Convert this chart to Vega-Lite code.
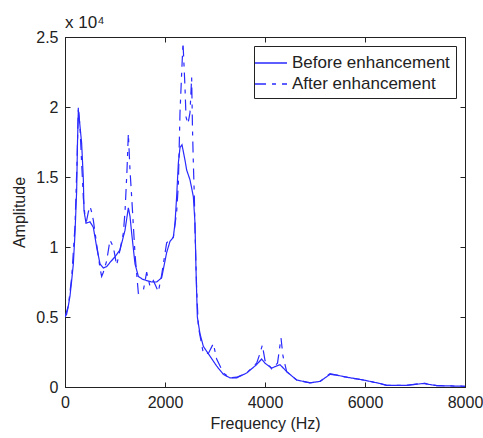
{
  "$schema": "https://vega.github.io/schema/vega-lite/v6.json",
  "width": 400,
  "height": 350,
  "autosize": {"type": "none"},
  "padding": {"left": 65, "top": 37, "right": 18, "bottom": 51},
  "background": "white",
  "title": {"text": "x 10⁴", "anchor": "start", "frame": "group", "fontSize": 17, "fontWeight": "normal", "font": "Liberation Sans", "color": "#222", "offset": -3, "dx": 0},
  "config": {
    "view": {"stroke": "#222", "strokeWidth": 1},
    "font": "Liberation Sans",
    "axis": {"labelFont": "Liberation Sans", "titleFont": "Liberation Sans", "labelFontSize": 16, "titleFontSize": 16, "titleFontWeight": "normal", "labelColor": "#222", "titleColor": "#222", "grid": false, "domainColor": "#222", "tickColor": "#222", "tickSize": -5, "labelPadding": 12}
  },
  "data": {"values": [
    {"f": 0, "a": 5000, "s": "Before enhancement"},
    {"f": 33, "a": 5200, "s": "Before enhancement"},
    {"f": 67, "a": 5800, "s": "Before enhancement"},
    {"f": 100, "a": 6500, "s": "Before enhancement"},
    {"f": 133, "a": 7600, "s": "Before enhancement"},
    {"f": 167, "a": 8800, "s": "Before enhancement"},
    {"f": 200, "a": 11000, "s": "Before enhancement"},
    {"f": 233, "a": 14000, "s": "Before enhancement"},
    {"f": 250, "a": 17500, "s": "Before enhancement"},
    {"f": 267, "a": 19800, "s": "Before enhancement"},
    {"f": 290, "a": 19000, "s": "Before enhancement"},
    {"f": 333, "a": 17400, "s": "Before enhancement"},
    {"f": 367, "a": 14800, "s": "Before enhancement"},
    {"f": 380, "a": 12600, "s": "Before enhancement"},
    {"f": 420, "a": 11700, "s": "Before enhancement"},
    {"f": 500, "a": 11800, "s": "Before enhancement"},
    {"f": 567, "a": 11400, "s": "Before enhancement"},
    {"f": 633, "a": 10000, "s": "Before enhancement"},
    {"f": 700, "a": 8800, "s": "Before enhancement"},
    {"f": 767, "a": 8500, "s": "Before enhancement"},
    {"f": 833, "a": 8600, "s": "Before enhancement"},
    {"f": 900, "a": 8900, "s": "Before enhancement"},
    {"f": 1000, "a": 9300, "s": "Before enhancement"},
    {"f": 1100, "a": 9800, "s": "Before enhancement"},
    {"f": 1200, "a": 11200, "s": "Before enhancement"},
    {"f": 1267, "a": 12800, "s": "Before enhancement"},
    {"f": 1300, "a": 12200, "s": "Before enhancement"},
    {"f": 1333, "a": 11000, "s": "Before enhancement"},
    {"f": 1400, "a": 8800, "s": "Before enhancement"},
    {"f": 1467, "a": 7900, "s": "Before enhancement"},
    {"f": 1550, "a": 7700, "s": "Before enhancement"},
    {"f": 1633, "a": 7600, "s": "Before enhancement"},
    {"f": 1733, "a": 7500, "s": "Before enhancement"},
    {"f": 1833, "a": 7500, "s": "Before enhancement"},
    {"f": 1933, "a": 7800, "s": "Before enhancement"},
    {"f": 2033, "a": 9600, "s": "Before enhancement"},
    {"f": 2100, "a": 10400, "s": "Before enhancement"},
    {"f": 2167, "a": 10700, "s": "Before enhancement"},
    {"f": 2200, "a": 11700, "s": "Before enhancement"},
    {"f": 2233, "a": 13600, "s": "Before enhancement"},
    {"f": 2267, "a": 16000, "s": "Before enhancement"},
    {"f": 2300, "a": 17100, "s": "Before enhancement"},
    {"f": 2340, "a": 17300, "s": "Before enhancement"},
    {"f": 2400, "a": 16200, "s": "Before enhancement"},
    {"f": 2433, "a": 15500, "s": "Before enhancement"},
    {"f": 2500, "a": 14800, "s": "Before enhancement"},
    {"f": 2567, "a": 13600, "s": "Before enhancement"},
    {"f": 2600, "a": 11700, "s": "Before enhancement"},
    {"f": 2620, "a": 8400, "s": "Before enhancement"},
    {"f": 2647, "a": 5000, "s": "Before enhancement"},
    {"f": 2700, "a": 3800, "s": "Before enhancement"},
    {"f": 2767, "a": 2900, "s": "Before enhancement"},
    {"f": 2900, "a": 2200, "s": "Before enhancement"},
    {"f": 3033, "a": 1500, "s": "Before enhancement"},
    {"f": 3167, "a": 900, "s": "Before enhancement"},
    {"f": 3300, "a": 650, "s": "Before enhancement"},
    {"f": 3433, "a": 650, "s": "Before enhancement"},
    {"f": 3633, "a": 1000, "s": "Before enhancement"},
    {"f": 3833, "a": 1600, "s": "Before enhancement"},
    {"f": 3933, "a": 2000, "s": "Before enhancement"},
    {"f": 4000, "a": 1700, "s": "Before enhancement"},
    {"f": 4133, "a": 1350, "s": "Before enhancement"},
    {"f": 4300, "a": 1600, "s": "Before enhancement"},
    {"f": 4433, "a": 1100, "s": "Before enhancement"},
    {"f": 4633, "a": 500, "s": "Before enhancement"},
    {"f": 4900, "a": 300, "s": "Before enhancement"},
    {"f": 5100, "a": 400, "s": "Before enhancement"},
    {"f": 5300, "a": 900, "s": "Before enhancement"},
    {"f": 5433, "a": 850, "s": "Before enhancement"},
    {"f": 5633, "a": 700, "s": "Before enhancement"},
    {"f": 5967, "a": 500, "s": "Before enhancement"},
    {"f": 6300, "a": 250, "s": "Before enhancement"},
    {"f": 6433, "a": 120, "s": "Before enhancement"},
    {"f": 6833, "a": 120, "s": "Before enhancement"},
    {"f": 7167, "a": 250, "s": "Before enhancement"},
    {"f": 7433, "a": 100, "s": "Before enhancement"},
    {"f": 8000, "a": 50, "s": "Before enhancement"},
    {"f": 0, "a": 5000, "s": "After enhancement"},
    {"f": 67, "a": 5800, "s": "After enhancement"},
    {"f": 133, "a": 7800, "s": "After enhancement"},
    {"f": 200, "a": 11500, "s": "After enhancement"},
    {"f": 240, "a": 16000, "s": "After enhancement"},
    {"f": 267, "a": 20000, "s": "After enhancement"},
    {"f": 300, "a": 18500, "s": "After enhancement"},
    {"f": 333, "a": 16000, "s": "After enhancement"},
    {"f": 367, "a": 13500, "s": "After enhancement"},
    {"f": 400, "a": 12200, "s": "After enhancement"},
    {"f": 433, "a": 11900, "s": "After enhancement"},
    {"f": 467, "a": 12500, "s": "After enhancement"},
    {"f": 500, "a": 12900, "s": "After enhancement"},
    {"f": 533, "a": 12500, "s": "After enhancement"},
    {"f": 567, "a": 11900, "s": "After enhancement"},
    {"f": 633, "a": 10200, "s": "After enhancement"},
    {"f": 700, "a": 8500, "s": "After enhancement"},
    {"f": 733, "a": 7900, "s": "After enhancement"},
    {"f": 767, "a": 8200, "s": "After enhancement"},
    {"f": 833, "a": 9000, "s": "After enhancement"},
    {"f": 900, "a": 10500, "s": "After enhancement"},
    {"f": 967, "a": 10000, "s": "After enhancement"},
    {"f": 1033, "a": 8700, "s": "After enhancement"},
    {"f": 1100, "a": 9800, "s": "After enhancement"},
    {"f": 1167, "a": 11000, "s": "After enhancement"},
    {"f": 1200, "a": 12500, "s": "After enhancement"},
    {"f": 1240, "a": 15500, "s": "After enhancement"},
    {"f": 1267, "a": 18100, "s": "After enhancement"},
    {"f": 1300, "a": 15500, "s": "After enhancement"},
    {"f": 1333, "a": 13600, "s": "After enhancement"},
    {"f": 1400, "a": 9500, "s": "After enhancement"},
    {"f": 1467, "a": 6700, "s": "After enhancement"},
    {"f": 1567, "a": 6900, "s": "After enhancement"},
    {"f": 1633, "a": 8200, "s": "After enhancement"},
    {"f": 1700, "a": 7200, "s": "After enhancement"},
    {"f": 1767, "a": 7600, "s": "After enhancement"},
    {"f": 1867, "a": 6800, "s": "After enhancement"},
    {"f": 1933, "a": 8000, "s": "After enhancement"},
    {"f": 2033, "a": 10300, "s": "After enhancement"},
    {"f": 2100, "a": 10500, "s": "After enhancement"},
    {"f": 2167, "a": 10700, "s": "After enhancement"},
    {"f": 2233, "a": 12500, "s": "After enhancement"},
    {"f": 2267, "a": 14500, "s": "After enhancement"},
    {"f": 2300, "a": 19600, "s": "After enhancement"},
    {"f": 2333, "a": 22400, "s": "After enhancement"},
    {"f": 2360, "a": 24600, "s": "After enhancement"},
    {"f": 2400, "a": 21400, "s": "After enhancement"},
    {"f": 2420, "a": 19300, "s": "After enhancement"},
    {"f": 2460, "a": 18800, "s": "After enhancement"},
    {"f": 2500, "a": 19600, "s": "After enhancement"},
    {"f": 2533, "a": 22100, "s": "After enhancement"},
    {"f": 2550, "a": 18400, "s": "After enhancement"},
    {"f": 2567, "a": 16000, "s": "After enhancement"},
    {"f": 2587, "a": 13600, "s": "After enhancement"},
    {"f": 2600, "a": 11200, "s": "After enhancement"},
    {"f": 2633, "a": 7000, "s": "After enhancement"},
    {"f": 2667, "a": 4300, "s": "After enhancement"},
    {"f": 2767, "a": 2400, "s": "After enhancement"},
    {"f": 2867, "a": 2400, "s": "After enhancement"},
    {"f": 2967, "a": 3100, "s": "After enhancement"},
    {"f": 3033, "a": 2000, "s": "After enhancement"},
    {"f": 3167, "a": 1000, "s": "After enhancement"},
    {"f": 3300, "a": 650, "s": "After enhancement"},
    {"f": 3433, "a": 700, "s": "After enhancement"},
    {"f": 3633, "a": 1000, "s": "After enhancement"},
    {"f": 3833, "a": 1700, "s": "After enhancement"},
    {"f": 3900, "a": 2400, "s": "After enhancement"},
    {"f": 3947, "a": 3000, "s": "After enhancement"},
    {"f": 4000, "a": 1900, "s": "After enhancement"},
    {"f": 4133, "a": 1300, "s": "After enhancement"},
    {"f": 4250, "a": 1700, "s": "After enhancement"},
    {"f": 4320, "a": 3500, "s": "After enhancement"},
    {"f": 4360, "a": 2200, "s": "After enhancement"},
    {"f": 4433, "a": 1100, "s": "After enhancement"},
    {"f": 4633, "a": 500, "s": "After enhancement"},
    {"f": 4900, "a": 300, "s": "After enhancement"},
    {"f": 5100, "a": 400, "s": "After enhancement"},
    {"f": 5300, "a": 950, "s": "After enhancement"},
    {"f": 5433, "a": 850, "s": "After enhancement"},
    {"f": 5633, "a": 700, "s": "After enhancement"},
    {"f": 5967, "a": 500, "s": "After enhancement"},
    {"f": 6300, "a": 250, "s": "After enhancement"},
    {"f": 6433, "a": 120, "s": "After enhancement"},
    {"f": 6833, "a": 120, "s": "After enhancement"},
    {"f": 7167, "a": 280, "s": "After enhancement"},
    {"f": 7433, "a": 100, "s": "After enhancement"},
    {"f": 8000, "a": 50, "s": "After enhancement"}
  ]},
  "layer": [
    {
      "mark": {"type": "line", "color": "#2a2aff", "strokeWidth": 1.2, "clip": true},
      "encoding": {
        "x": {"field": "f", "type": "quantitative", "scale": {"domain": [0, 8000], "nice": false}, "axis": {"title": "Frequency (Hz)", "values": [0, 2000, 4000, 6000, 8000], "format": "d", "labelFlush": false, "titlePadding": 5}},
        "y": {"field": "a", "type": "quantitative", "scale": {"domain": [0, 25000], "nice": false}, "axis": {"title": "Amplitude", "values": [0, 5000, 10000, 15000, 20000, 25000], "labelExpr": "datum.value / 10000", "labelFlush": false, "titlePadding": 8}},
        "strokeDash": {"field": "s", "type": "nominal", "scale": {"domain": ["Before enhancement", "After enhancement"], "range": [[1, 0], [11, 6, 4, 6]]},
          "legend": {"title": null, "orient": "top-right", "offset": 9, "strokeColor": "#222", "fillColor": "white", "padding": 6, "labelFontSize": 17, "labelFont": "Liberation Sans", "labelColor": "#222", "labelLimit": 300, "labelExpr": "datum.label + '\u00a0\u00a0'", "symbolType": "M-1.6,0H1.6", "symbolSize": 400, "symbolStrokeColor": "#2a2aff", "symbolStrokeWidth": 1.4, "symbolFillColor": "transparent", "rowPadding": 2, "labelOffset": 10, "cornerRadius": 0}},
        "detail": {"field": "s"}
      }
    },
    {
      "mark": {"type": "point", "opacity": 0},
      "encoding": {
        "x": {"field": "f", "type": "quantitative", "axis": {"orient": "top", "labels": false, "title": null, "values": [0, 2000, 4000, 6000, 8000]}},
        "y": {"field": "a", "type": "quantitative", "axis": {"orient": "right", "labels": false, "title": null, "values": [0, 5000, 10000, 15000, 20000, 25000]}}
      }
    }
  ],
  "resolve": {"axis": {"x": "independent", "y": "independent"}}
}
